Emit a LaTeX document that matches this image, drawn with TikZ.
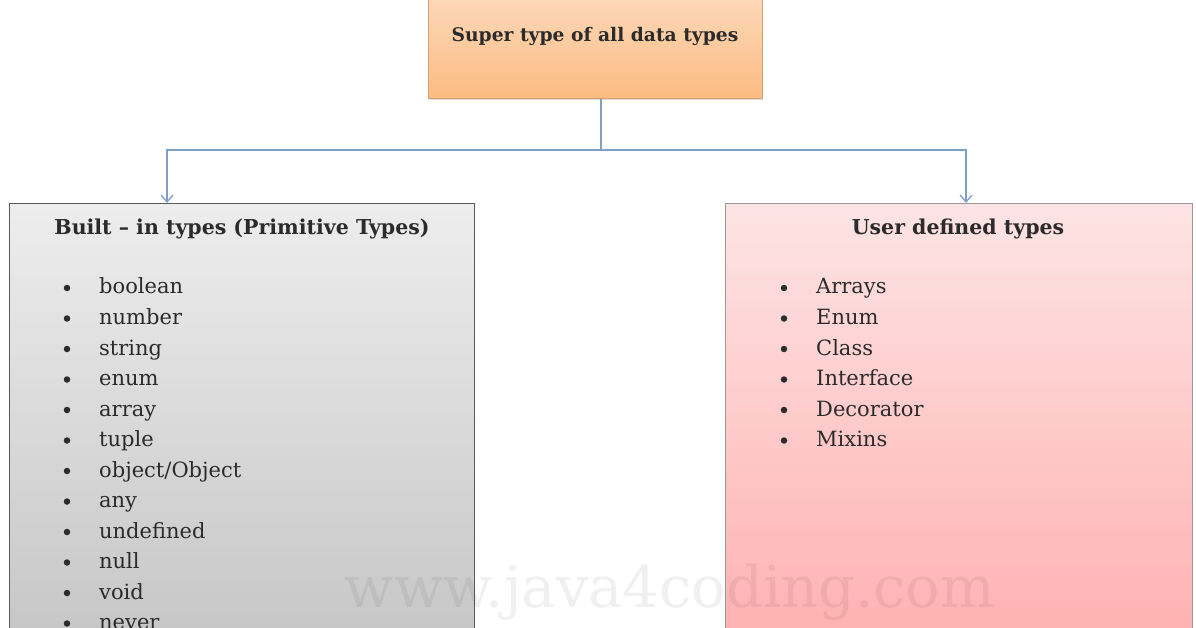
\documentclass[tikz,border=0pt]{standalone}
\usepackage{fontspec}
\setmainfont{DejaVu Serif}
\usetikzlibrary{arrows.meta,shadows}
\definecolor{conn}{HTML}{7F9FCB}
\definecolor{orgtop}{HTML}{FCDDC2}
\definecolor{orgbot}{HTML}{FCBC82}
\definecolor{graytop}{HTML}{EDEDED}
\definecolor{graybot}{HTML}{C4C4C4}
\definecolor{pinktop}{HTML}{FDE4E4}
\definecolor{pinkbot}{HTML}{FFAEAE}
\definecolor{txt}{HTML}{2B2B2B}
\tikzset{
  boxbase/.style={rectangle, inner sep=0pt, anchor=north west},
  topbox/.style={boxbase, top color=orgtop, bottom color=orgbot, draw=orgbot!85!black, line width=0.6pt,
     drop shadow={shadow xshift=1pt, shadow yshift=-2pt, opacity=0.25}},
  leftbox/.style={boxbase, top color=graytop, bottom color=graybot, draw=black!65, line width=1.3pt},
  rightbox/.style={boxbase, top color=pinktop, bottom color=pinkbot, draw=black!40, line width=1pt},
  conline/.style={draw=conn, line width=1.3pt},
  conarrow/.style={conline, -{Straight Barb[length=7pt, width=12pt, line width=1.3pt]}},
  heading/.style={font=\bfseries\fontsize{20.5}{24}\selectfont, text=txt, inner sep=0pt},
  supertext/.style={font=\bfseries\fontsize{18.7}{22}\selectfont, text=txt, inner sep=0pt},
  item/.style={font=\fontsize{21}{24}\selectfont, text=txt, inner sep=0pt, anchor=base west},
  bul/.style={circle, fill=txt, inner sep=0pt, minimum size=6.5pt},
  wmark/.style={font=\fontsize{57.5}{60}\selectfont, text=black, opacity=0.06, inner sep=0pt, anchor=base}
}
\begin{document}
\begin{tikzpicture}[x=1pt, y=-1pt]
\useasboundingbox (0,0) rectangle (1196,628);
\fill[white] (0,0) rectangle (1196,628);
\begin{scope}
\clip (0,0) rectangle (1196,628);
% boxes
\node[topbox, minimum width=334pt, minimum height=118pt] (super) at (428,-20) {};
\node[leftbox, minimum width=465pt, minimum height=460pt] (built) at (9,203) {};
\node[rightbox, minimum width=467pt, minimum height=460pt] (user) at (725,203) {};
% connectors
\coordinate (split) at (601,150);
\draw[conline] (super.south -| split) -- (split);
\draw[conarrow] (split) -| (built.north -| 167,0);
\draw[conarrow] (split) -| (user.north -| 966,0);
% texts
\node[supertext, anchor=base] (tsuper) at (595,42) {Super type of all data types};
\node[heading, anchor=base] (tbuilt) at (242,235) {Built – in types (Primitive Types)};
\node[heading, anchor=base] (tuser) at (958,235) {User defined types};
\foreach \t [count=\i from 0] in {boolean,number,string,enum,array,tuple,object/Object,any,undefined,null,void,never}{
  \node[bul] (lb\i) at (67,{288+30.5*\i}) {};
  \node[item] (li\i) at (99,{294+30.5*\i}) {\t};
}
\foreach \t [count=\i from 0] in {Arrays,Enum,Class,Interface,Decorator,Mixins}{
  \node[bul] (rb\i) at (784,{288+30.5*\i}) {};
  \node[item] (ri\i) at (816,{294+30.5*\i}) {\t};
}
\node[wmark] (wm) at (670,607) {www.java4coding.com};
\end{scope}
\end{tikzpicture}
\end{document}
